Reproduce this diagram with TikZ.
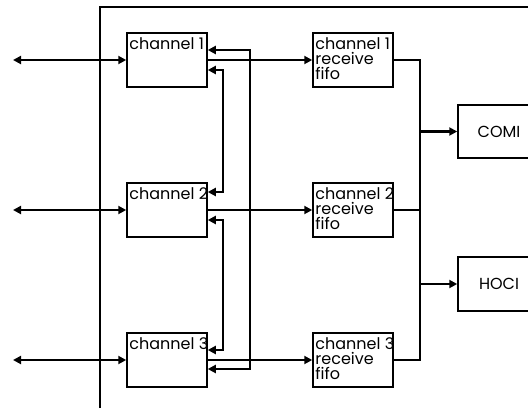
\documentclass[tikz,border=0pt]{standalone}
\usepackage{fontspec}
\setmainfont{Poppins}
\usetikzlibrary{arrows.meta,calc}
\begin{document}
\begin{tikzpicture}[x=1pt,y=-1pt,
  box/.style={draw,line width=1.5pt,minimum width=80pt,minimum height=54pt,inner sep=0pt},
  lbl/.style={inner sep=0pt,anchor=north west,align=left,font=\fontsize{16}{15}\selectfont},
  conn/.style={line width=2.4pt},
  tip/.style={-{Triangle[length=8pt,width=8pt]}},
  dtip/.style={{Triangle[length=8pt,width=8pt]}-{Triangle[length=8pt,width=8pt]}}]
\useasboundingbox (0,0) rectangle (528,410);
\clip (0,0) rectangle (528,410);
% frame
\draw[line width=1.2pt] (100,408) -- (100,7) -- (540,7);
% channel boxes
\node[box] (c1) at (167,60) {};
\node[box] (c2) at (167,210) {};
\node[box] (c3) at (167,360) {};
\node[lbl] (c1t) at ([xshift=3pt,yshift=-5pt]c1.north west) {channel 1};
\node[lbl] (c2t) at ([xshift=3pt,yshift=-5pt]c2.north west) {channel 2};
\node[lbl] (c3t) at ([xshift=3pt,yshift=-5pt]c3.north west) {channel 3};
% fifo boxes
\node[box] (f1) at (353,60) {};
\node[box] (f2) at (353,210) {};
\node[box] (f3) at (353,360) {};
\node[lbl] (f1t) at ([xshift=3pt,yshift=-5pt]f1.north west) {channel 1\\receive\\fifo};
\node[lbl] (f2t) at ([xshift=3pt,yshift=-5pt]f2.north west) {channel 2\\receive\\fifo};
\node[lbl] (f3t) at ([xshift=3pt,yshift=-5pt]f3.north west) {channel 3\\receive\\fifo};
% outputs
\node[box,minimum width=82pt,minimum height=53pt,font=\fontsize{16}{16}\selectfont] (comi) at (499,131.5) {COMI};
\node[box,minimum width=82pt,minimum height=54pt,font=\fontsize{16}{16}\selectfont] (hoci) at (499,284) {HOCI};
% external ports
\coordinate (p1) at (13,60);
\coordinate (p2) at (13,210);
\coordinate (p3) at (13,360);
\draw[conn,dtip] (p1) -- (c1.west);
\draw[conn,dtip] (p2) -- (c2.west);
\draw[conn,dtip] (p3) -- (c3.west);
% channel to fifo
\draw[conn,tip] (c1.east) -- (f1.west);
\draw[conn,tip] (c2.east) -- (f2.west);
\draw[conn,tip] (c3.east) -- (f3.west);
% inter-channel links
\draw[conn,dtip] ([yshift=-10pt]c1.east) -- (223,70) -- (223,192) -- ([yshift=18pt]c2.east);
\draw[conn,dtip] ([yshift=-10pt]c2.east) -- (223,220) -- (223,350) -- ([yshift=10pt]c3.east);
\draw[conn,dtip] ([yshift=10pt]c1.east) -- (250,50) -- (250,369) -- ([yshift=-9pt]c3.east);
% fifo bus
\coordinate (b1) at (420,60);
\coordinate (b3) at (420,360);
\draw[conn] (f1.east) -- (b1) -- (b3) -- (f3.east);
\draw[conn] (f2.east) -- (420,210);
\draw[conn,tip] (420,131.5) -- (comi.west);
\draw[conn,tip] (420,284) -- (hoci.west);
\end{tikzpicture}
\end{document}
